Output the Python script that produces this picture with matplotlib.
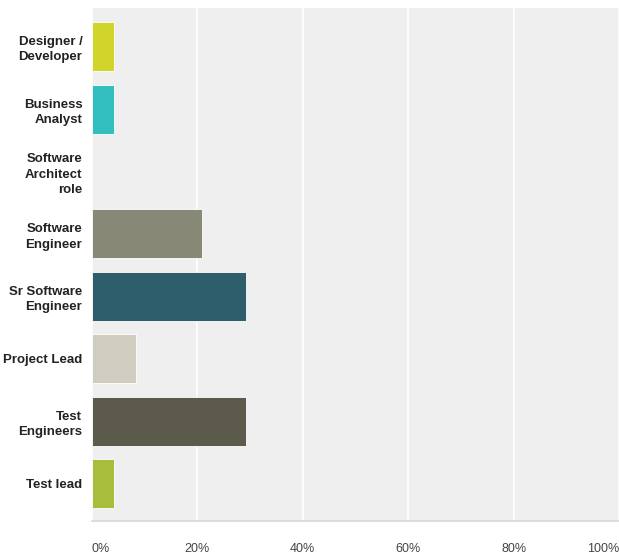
import matplotlib
matplotlib.use("Agg")
import matplotlib.pyplot as plt
from matplotlib.ticker import FuncFormatter

plt.rcParams["font.family"] = ["Liberation Sans", "DejaVu Sans"]

# share of respondents per role
roles = [
    "Designer /\nDeveloper",
    "Business\nAnalyst",
    "Software\nArchitect\nrole",
    "Software\nEngineer",
    "Sr Software\nEngineer",
    "Project Lead",
    "Test\nEngineers",
    "Test lead",
]
shares = [4.17, 4.17, 0.0, 20.83, 29.17, 8.33, 29.17, 4.17]
colors = ["#d0d42b", "#33bfc0", "#888888", "#888877", "#2e5e6b",
          "#cfcdbf", "#5c5a4a", "#a9bd3c"]
ticks = [0, 20, 40, 60, 80, 100]

fig = plt.figure(figsize=(6.19, 5.55), dpi=100)
ax = fig.add_axes([92 / 619, 34 / 555, 527 / 619, 513 / 555])
ax.set_facecolor("#efefef")

ypos = list(range(len(roles)))
ax.barh(ypos, shares, height=0.785, color=colors, edgecolor="#ffffff",
        linewidth=0.6, zorder=3)

ax.set_xlim(0, 100)
ax.set_ylim(len(roles) - 1 + 0.6, -0.62)
ax.set_xticks(ticks)
ax.xaxis.set_major_formatter(FuncFormatter(lambda v, p: f"{v:.0f}%"))
ax.grid(axis="x", color="white", linewidth=1.2, zorder=1)
ax.set_axisbelow(True)

ax.set_yticks(ypos)
ax.set_yticklabels(roles, fontsize=9.5, fontweight="bold",
                   color="#222222", linespacing=1.35)
ax.tick_params(axis="y", length=0, pad=7)
ax.tick_params(axis="x", length=0, pad=16, labelsize=9,
               labelcolor="#444444")

tl = ax.get_xticklabels()
tl[0].set_horizontalalignment("left")
tl[-1].set_horizontalalignment("right")

for side in ("top", "right", "left"):
    ax.spines[side].set_visible(False)
ax.spines["bottom"].set_color("#d8d8d8")
ax.spines["bottom"].set_linewidth(1.2)

fig.savefig("out.png", dpi=100, facecolor="white")
